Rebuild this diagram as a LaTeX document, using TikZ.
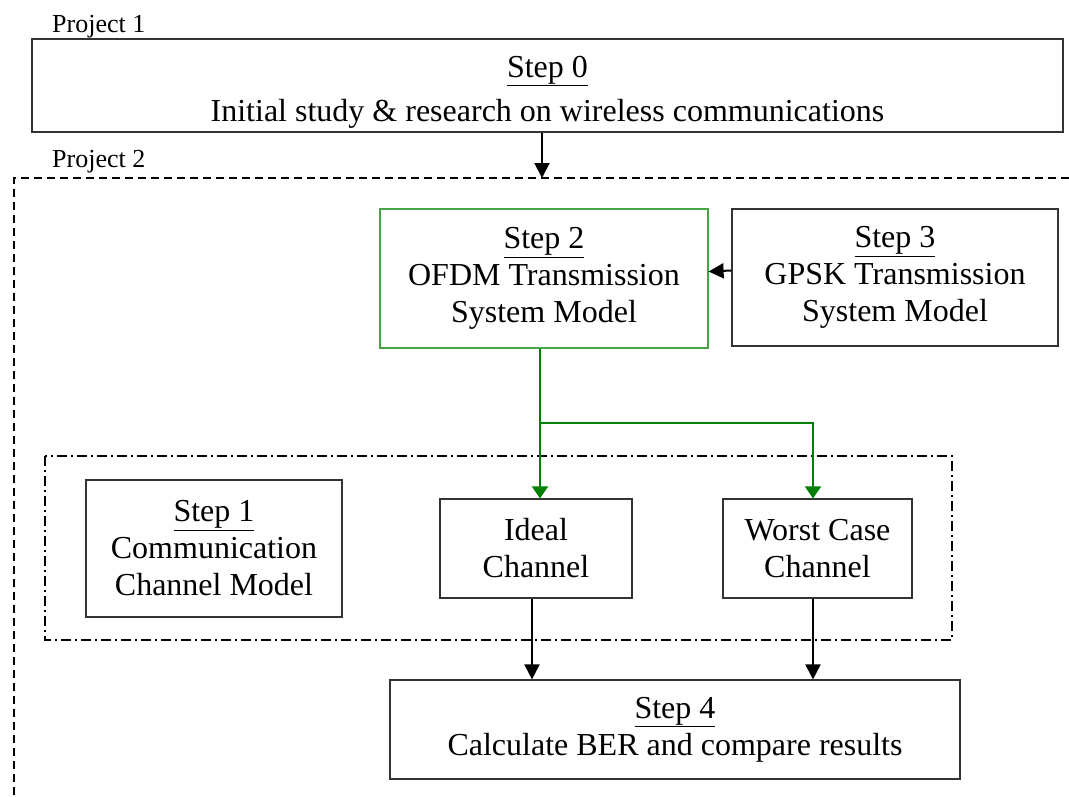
\documentclass[tikz,border=0pt]{standalone}
\usepackage{fontspec}
\setmainfont{Liberation Serif}
\usetikzlibrary{arrows.meta}

\definecolor{flowgreen}{RGB}{0,128,0}
\definecolor{boxgreen}{RGB}{70,165,70}
\newcommand{\boxfont}{\fontsize{32}{37}\selectfont}
\newcommand{\tagfont}{\fontsize{26}{30}\selectfont}

\begin{document}
\begin{tikzpicture}[
    x=1pt, y=-1pt,
    stepbox/.style={
        draw=black!80,
        line width=1.2pt,
        align=center,
        inner sep=0pt,
        font=\boxfont
    },
    greenbox/.style={stepbox, draw=boxgreen},
    tag/.style={font=\tagfont, anchor=base west, inner sep=0pt},
    arrow/.style={-{Triangle[length=15pt,width=15pt]}, line width=2pt},
    feed/.style={-{Triangle[length=12pt,width=16pt]}, line width=2pt, draw=flowgreen},
    frame/.style={line width=1.8pt, dash pattern=on 8pt off 5pt},
    group/.style={line width=1.8pt, dash pattern=on 10pt off 4pt on 2pt off 4pt}
]

\useasboundingbox (0,0) rectangle (1069,796);

\node[tag] (p1) at (52,32) {Project 1};
\node[tag] (p2) at (52,167) {Project 2};

\node[stepbox, minimum width=1031pt, minimum height=93pt] (s0) at (547.5,85.5)
    {\rule{0pt}{34pt}\underline{Step 0}\\[7pt] Initial study \& research on wireless communications};
\node[greenbox, minimum width=328pt, minimum height=139pt] (s2) at (544,278.5)
    {\underline{Step 2}\\ OFDM Transmission\\ System Model};
\node[stepbox, minimum width=326pt, minimum height=137pt] (s3) at (895,277.5)
    {\underline{Step 3}\\ GPSK Transmission\\ System Model};
\node[stepbox, minimum width=256pt, minimum height=137pt] (s1) at (214,548.5)
    {\underline{Step 1}\\ Communication\\ Channel Model};
\node[stepbox, minimum width=192pt, minimum height=99pt] (ideal) at (536,548.5)
    {Ideal\\ Channel};
\node[stepbox, minimum width=189pt, minimum height=99pt] (worst) at (817.5,548.5)
    {Worst Case\\ Channel};
\node[stepbox, minimum width=570pt, minimum height=99pt] (s4) at (675,729.5)
    {\underline{Step 4}\\ Calculate BER and compare results};

\draw[frame] (1069,178) -- (14,178) -- (14,796);
\draw[group] (45,456) rectangle (952,640);

\coordinate (p2top) at (542,178);
\coordinate (split) at (540,423);
\coordinate (fork) at (813,423);

\draw[arrow] (s0.south -| p2top) -- (p2top);
\draw[arrow] ([yshift=7pt]s3.west) -- ([yshift=7pt]s2.east);

\draw[feed] (s2.south -| split) -- (split |- ideal.north);
\draw[feed] (split) -- (fork) -- (fork |- worst.north);

\draw[arrow] ([xshift=-4pt]ideal.south) -- ([xshift=-4pt]ideal.south |- s4.north);
\draw[arrow] (fork |- worst.south) -- (fork |- s4.north);

\end{tikzpicture}
\end{document}
